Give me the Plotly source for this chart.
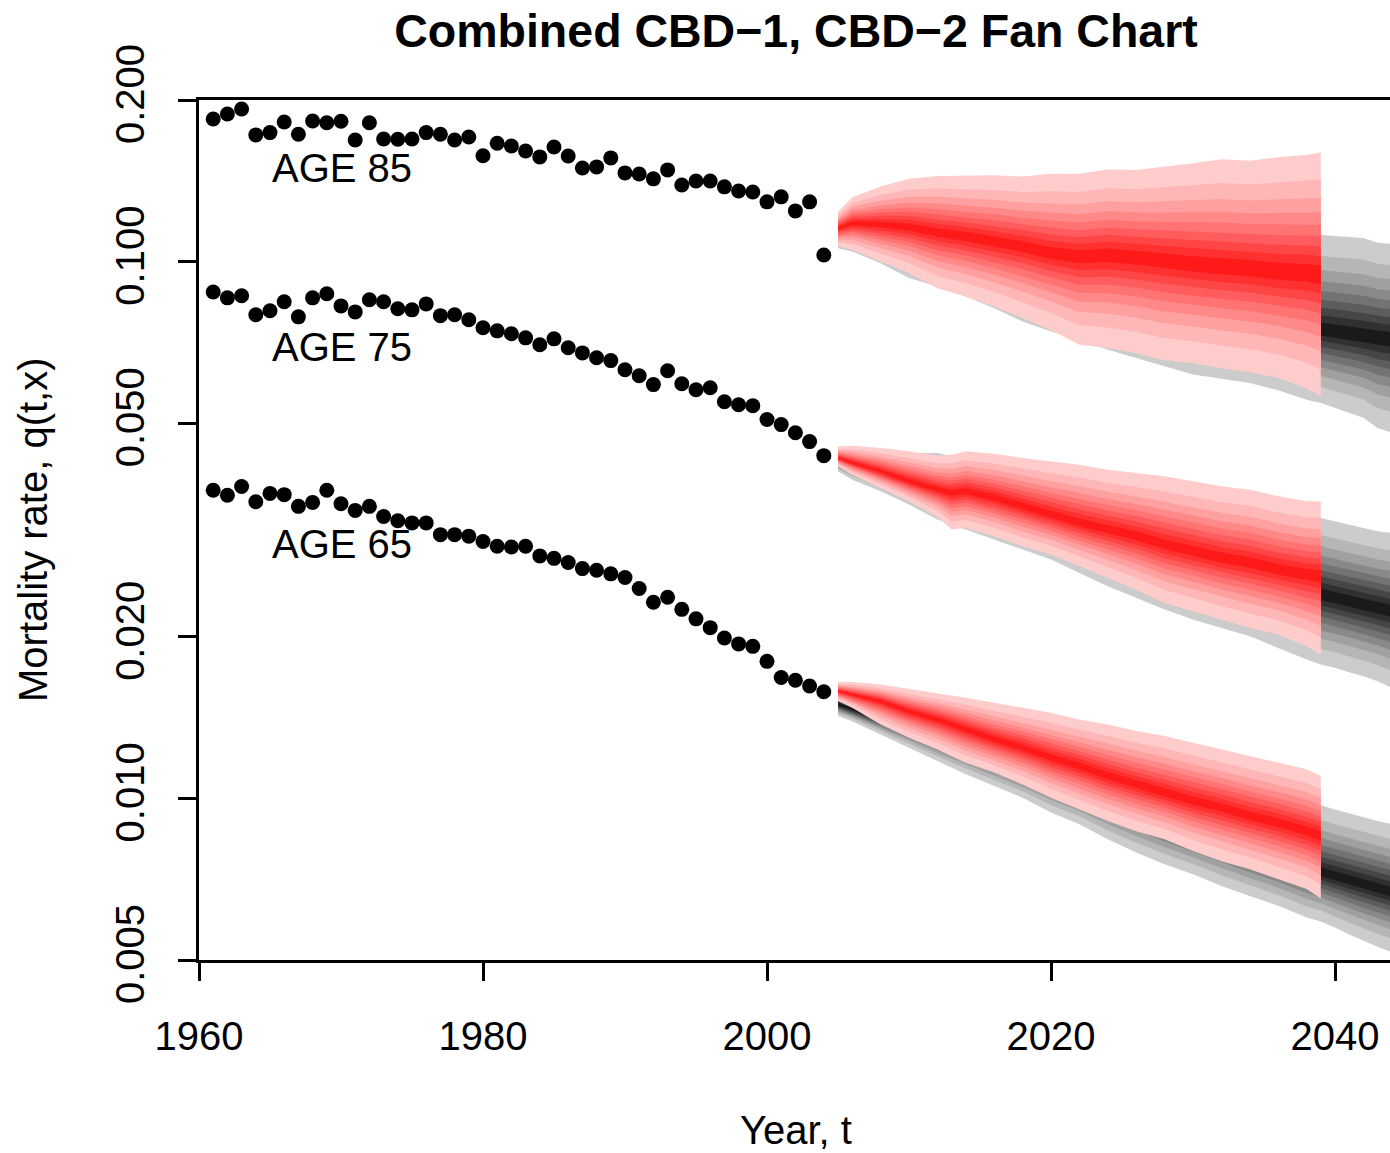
import numpy as np
import plotly.graph_objects as go
from statistics import NormalDist

# ---------------- observed data ----------------
obs_years = list(range(1961, 2005))
age85 = [0.1844, 0.1883, 0.1924, 0.1722, 0.1739, 0.1820, 0.1727, 0.1828, 0.1814, 0.1826,
         0.1685, 0.1814, 0.1692, 0.1690, 0.1692, 0.1739, 0.1727, 0.1685, 0.1707, 0.1575,
         0.1661, 0.1642, 0.1607, 0.1567, 0.1635, 0.1573, 0.1494, 0.1501, 0.1560, 0.1463,
         0.1456, 0.1426, 0.1482, 0.1389, 0.1413, 0.1413, 0.1378, 0.1354, 0.1348, 0.1292,
         0.1320, 0.1243, 0.1292, 0.1029]
age75 = [0.0878, 0.0856, 0.0864, 0.0796, 0.0810, 0.0842, 0.0789, 0.0856, 0.0871, 0.0827,
         0.0806, 0.0849, 0.0842, 0.0817, 0.0813, 0.0834, 0.0793, 0.0796, 0.0779, 0.0753,
         0.0743, 0.0734, 0.0721, 0.0700, 0.0718, 0.0691, 0.0676, 0.0662, 0.0654, 0.0629,
         0.0613, 0.0590, 0.0626, 0.0592, 0.0577, 0.0582, 0.0548, 0.0541, 0.0539, 0.0508,
         0.0497, 0.0480, 0.0462, 0.0435]
age65 = [0.0375, 0.0367, 0.0381, 0.0357, 0.0370, 0.0368, 0.0350, 0.0356, 0.0375, 0.0354,
         0.0344, 0.0350, 0.0335, 0.0329, 0.0326, 0.0326, 0.0310, 0.0310, 0.0308, 0.0301,
         0.0295, 0.0294, 0.0295, 0.0283, 0.0280, 0.0275, 0.0268, 0.0266, 0.0262, 0.0258,
         0.0246, 0.0232, 0.0237, 0.0225, 0.0216, 0.0208, 0.0199, 0.0194, 0.0192, 0.0180,
         0.0168, 0.0166, 0.0162, 0.0158]

# ---------------- projected fans (5%, 50%, 95%) ----------------
# Age 85
red85_years = [2005, 2006, 2008, 2010, 2012, 2014, 2016, 2018, 2020, 2022, 2024, 2026,
               2028, 2030, 2032, 2034, 2036, 2038, 2039]
red85_hi = [0.1239, 0.1318, 0.1380, 0.1426, 0.1444, 0.1444, 0.1448, 0.1440, 0.1457, 0.1457,
            0.1486, 0.1482, 0.1503, 0.1525, 0.1551, 0.1542, 0.1564, 0.1580, 0.1596]
red85_med = [0.1154, 0.1179, 0.1171, 0.1159, 0.1133, 0.1114, 0.1090, 0.1067, 0.1037, 0.1022,
             0.1029, 0.1019, 0.1005, 0.0990, 0.0979, 0.0972, 0.0958, 0.0952, 0.0945]
red85_lo = [0.1067, 0.1052, 0.1000, 0.0952, 0.0892, 0.0861, 0.0825, 0.0785, 0.0746, 0.0700,
            0.0690, 0.0675, 0.0655, 0.0647, 0.0633, 0.0622, 0.0607, 0.0581, 0.0561]
grey85_years = red85_years + [2040, 2041, 2042, 2043, 2044]
grey85_hi = [0.1227, 0.1281, 0.1286, 0.1320, 0.1303, 0.1297, 0.1306, 0.1326, 0.1320, 0.1303,
             0.1303, 0.1284, 0.1270, 0.1254, 0.1208, 0.1166, 0.1146, 0.1136, 0.1121,
             0.1117, 0.1112, 0.1107, 0.1084, 0.1079]
grey85_med = [0.1151, 0.1141, 0.1112, 0.1084, 0.1056, 0.1029, 0.1003, 0.0978, 0.0953, 0.0929,
              0.0905, 0.0882, 0.0860, 0.0838, 0.0817, 0.0796, 0.0776, 0.0756, 0.0746,
              0.0740, 0.0734, 0.0727, 0.0721, 0.0715]
grey85_lo = [0.1059, 0.1044, 0.0993, 0.0932, 0.0899, 0.0861, 0.0819, 0.0773, 0.0741, 0.0715,
             0.0685, 0.0661, 0.0638, 0.0616, 0.0604, 0.0594, 0.0576, 0.0553, 0.0545,
             0.0534, 0.0523, 0.0512, 0.0490, 0.0480]

# Age 75
red75_years = [2005, 2006, 2008, 2010, 2012, 2013, 2014, 2016, 2018, 2020, 2022, 2024,
               2026, 2028, 2030, 2032, 2034, 2036, 2038, 2039]
red75_hi = [0.04527, 0.04540, 0.04495, 0.04431, 0.04350, 0.04368, 0.04431, 0.04387, 0.04307,
            0.04246, 0.04185, 0.04096, 0.04038, 0.03981, 0.03896, 0.03814, 0.03760, 0.03654,
            0.03577, 0.03577]
red75_med = [0.04307, 0.04215, 0.04067, 0.03896, 0.03760, 0.03706, 0.03734, 0.03628, 0.03501,
             0.03378, 0.03260, 0.03168, 0.03078, 0.02970, 0.02887, 0.02805, 0.02746, 0.02669,
             0.02612, 0.02593]
red75_lo = [0.04155, 0.04010, 0.03787, 0.03577, 0.03345, 0.03168, 0.03190, 0.03078, 0.02949,
            0.02846, 0.02707, 0.02575, 0.02449, 0.02313, 0.02233, 0.02154, 0.02078, 0.02020,
            0.01920, 0.01853]
grey75_years = red75_years + [2040, 2041, 2042, 2043, 2044]
grey75_hi = [0.04489, 0.04508, 0.04444, 0.04399, 0.04399, 0.04344, 0.04288, 0.04196, 0.04090,
             0.03993, 0.03953, 0.03930, 0.03863, 0.03787, 0.03717, 0.03592, 0.03481, 0.03422,
             0.03373, 0.03330, 0.03283, 0.03237, 0.03190, 0.03145, 0.03123]
grey75_med = [0.04264, 0.04190, 0.04055, 0.03919, 0.03787, 0.03723, 0.03659, 0.03541, 0.03422,
              0.03307, 0.03195, 0.03092, 0.02987, 0.02887, 0.02793, 0.02699, 0.02608, 0.02520,
              0.02439, 0.02397, 0.02363, 0.02330, 0.02297, 0.02265, 0.02233]
grey75_lo = [0.04067, 0.03925, 0.03734, 0.03526, 0.03307, 0.03237, 0.03168, 0.03035, 0.02907,
             0.02785, 0.02631, 0.02484, 0.02363, 0.02249, 0.02154, 0.02078, 0.02005, 0.01907,
             0.01814, 0.01776, 0.01751, 0.01718, 0.01689, 0.01653, 0.01607]

# Age 65
red65_years = [2005, 2006, 2008, 2010, 2012, 2014, 2016, 2018, 2020, 2022, 2024, 2026,
               2028, 2030, 2032, 2034, 2036, 2038, 2039]
red65_hi = [0.01647, 0.01647, 0.01630, 0.01600, 0.01573, 0.01540, 0.01507, 0.01475, 0.01444,
            0.01403, 0.01373, 0.01335, 0.01307, 0.01270, 0.01234, 0.01199, 0.01165, 0.01133,
            0.01101]
red65_med = [0.01585, 0.01562, 0.01518, 0.01454, 0.01403, 0.01345, 0.01288, 0.01243, 0.01191,
             0.01149, 0.01101, 0.01062, 0.01025, 0.00989, 0.00961, 0.00927, 0.00901, 0.00869,
             0.00851]
red65_lo = [0.01518, 0.01475, 0.01373, 0.01297, 0.01234, 0.01165, 0.01117, 0.01062, 0.01003,
            0.00954, 0.00908, 0.00869, 0.00839, 0.00798, 0.00764, 0.00738, 0.00707, 0.00678,
            0.00651]
grey65_years = red65_years + [2040, 2041, 2042, 2043, 2044]
grey65_hi = [0.01603, 0.01569, 0.01538, 0.01503, 0.01467, 0.01438, 0.01391, 0.01346, 0.01333,
             0.01290, 0.01272, 0.01248, 0.01206, 0.01155, 0.01123, 0.01076, 0.01034, 0.01000,
             0.00971, 0.00954, 0.00938, 0.00923, 0.00908, 0.00895]
grey65_med = [0.01496, 0.01465, 0.01406, 0.01346, 0.01290, 0.01238, 0.01186, 0.01136, 0.01090,
              0.01044, 0.01000, 0.00960, 0.00920, 0.00881, 0.00845, 0.00810, 0.00777, 0.00744,
              0.00728, 0.00716, 0.00704, 0.00692, 0.00680, 0.00669]
grey65_lo = [0.01424, 0.01393, 0.01316, 0.01243, 0.01174, 0.01109, 0.01055, 0.01003, 0.00941,
             0.00895, 0.00839, 0.00793, 0.00754, 0.00722, 0.00687, 0.00658, 0.00631, 0.00600,
             0.00590, 0.00575, 0.00558, 0.00543, 0.00529, 0.00517]

# fan probability levels (outer to inner)
fan_probs = [0.95, 0.90, 0.85, 0.80, 0.75, 0.70, 0.65, 0.60, 0.55]

x_ticks = [1960, 1980, 2000, 2020, 2040]
y_ticks = [0.005, 0.010, 0.020, 0.050, 0.100, 0.200]
y_ticktext = ["0.005", "0.010", "0.020", "0.050", "0.100", "0.200"]

age_labels = ["AGE 85", "AGE 75", "AGE 65"]
label_x = [1965, 1965, 1965]
label_y = [0.1494, 0.0694, 0.0298]

# ---------------- styling ----------------
FONT = "Liberation Sans, Arial, Helvetica, sans-serif"
nd = NormalDist()
z95 = nd.inv_cdf(0.95)
ratios = [nd.inv_cdf(p) / z95 for p in fan_probs]
lv = np.linspace(204, 26, len(fan_probs)).round().astype(int)
red_cols = [f"rgb(255,{v},{v})" for v in lv]
grey_cols = [f"rgb({v},{v},{v})" for v in lv]

fig = go.Figure()


def add_fan(years, lo, med, hi, cols):
    yrs = np.array(years, dtype=float)
    lo = np.array(lo); med = np.array(med); hi = np.array(hi)
    for r, c in zip(ratios, cols):
        up = med * (hi / med) ** r
        dn = med * (lo / med) ** r
        fig.add_trace(go.Scatter(
            x=np.concatenate([yrs, yrs[::-1]]),
            y=np.concatenate([up, dn[::-1]]),
            mode="lines", fill="toself", fillcolor=c,
            line=dict(width=0, color=c), hoverinfo="skip", showlegend=False))


add_fan(grey85_years, grey85_lo, grey85_med, grey85_hi, grey_cols)
add_fan(grey75_years, grey75_lo, grey75_med, grey75_hi, grey_cols)
add_fan(grey65_years, grey65_lo, grey65_med, grey65_hi, grey_cols)
add_fan(red85_years, red85_lo, red85_med, red85_hi, red_cols)
add_fan(red75_years, red75_lo, red75_med, red75_hi, red_cols)
add_fan(red65_years, red65_lo, red65_med, red65_hi, red_cols)

for series in (age85, age75, age65):
    fig.add_trace(go.Scatter(x=obs_years, y=series, mode="markers",
                             marker=dict(size=15, color="black", line=dict(width=0)),
                             showlegend=False))

for txt, lx, ly in zip(age_labels, label_x, label_y):
    fig.add_annotation(x=lx, y=np.log10(ly), text=txt, showarrow=False,
                       xanchor="left", yanchor="middle",
                       font=dict(family=FONT, size=40, color="black"))

W, H = 1390, 1153
L, R, T, B = 199, 0, 100, 193
plot_w = W - L - R
plot_h = H - T - B
px_per_year = 14.2
x_max = 1960 + plot_w / px_per_year

fig.add_annotation(xref="paper", yref="paper", x=(796 - L) / plot_w, y=(960 - 1130) / plot_h,
                   text="Year, t", showarrow=False, xanchor="center", yanchor="middle",
                   font=dict(family=FONT, size=40, color="black"))
fig.add_annotation(xref="paper", yref="paper", x=(33 - L) / plot_w, y=(960 - 530) / plot_h,
                   text="Mortality rate, q(t,x)", showarrow=False, textangle=-90,
                   xanchor="center", yanchor="middle",
                   font=dict(family=FONT, size=40, color="black"))

fig.update_layout(
    width=W, height=H,
    margin=dict(l=L, r=R, t=T, b=B, pad=0),
    paper_bgcolor="white", plot_bgcolor="white",
    title=dict(text="<b>Combined CBD\u22121, CBD\u22122 Fan Chart</b>",
               x=(796 - L) / plot_w, xref="paper", xanchor="center",
               y=1 - 31 / H, yref="container", yanchor="middle",
               font=dict(family=FONT, size=46.5, color="black")),
    xaxis=dict(range=[1960, x_max], tickvals=x_ticks, ticks="outside", ticklen=18,
               tickwidth=2.5, tickcolor="black", showline=True, linecolor="black",
               linewidth=2.5, mirror=True, showgrid=False, zeroline=False,
               tickfont=dict(family=FONT, size=40, color="black"), ticklabelstandoff=21),
    yaxis=dict(type="log", range=[np.log10(0.005), np.log10(0.2)], tickvals=y_ticks,
               ticktext=y_ticktext, tickangle=-90, ticks="outside", ticklen=18,
               tickwidth=2.5, tickcolor="black", showline=True, linecolor="black",
               linewidth=2.5, showgrid=False, zeroline=False,
               tickfont=dict(family=FONT, size=40, color="black"), ticklabelstandoff=18),
)

fig.write_html("out.html")
